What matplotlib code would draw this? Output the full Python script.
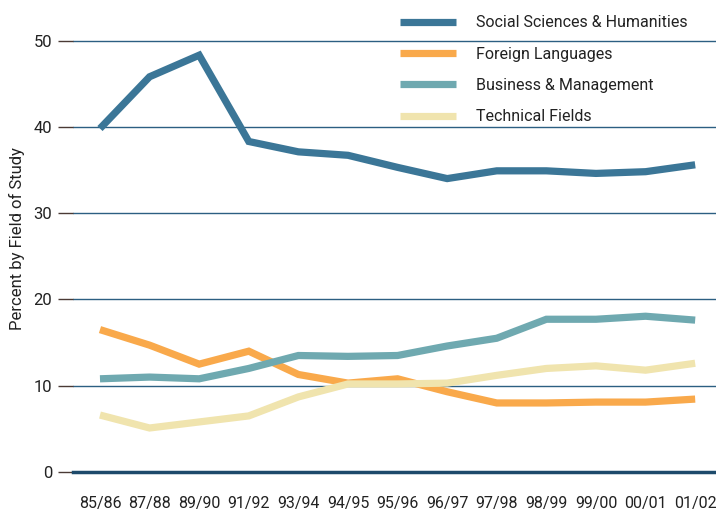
import matplotlib
matplotlib.use('Agg')
import matplotlib.pyplot as plt

years=['85/86','87/88','89/90','91/92','93/94','94/95','95/96','96/97','97/98','98/99','99/00','00/01','01/02']
social=[39.8,45.8,48.3,38.3,37.1,36.7,35.3,34.0,34.9,34.9,34.6,34.8,35.6]
foreign=[16.5,14.7,12.5,14.0,11.3,10.3,10.8,9.3,8.0,8.0,8.1,8.1,8.45]
business=[10.8,11.0,10.8,12.0,13.5,13.4,13.5,14.6,15.5,17.7,17.7,18.05,17.6]
technical=[6.6,5.1,5.8,6.5,8.7,10.2,10.2,10.3,11.2,12.0,12.3,11.8,12.6]

names=['Social Sciences & Humanities','Foreign Languages','Business & Management','Technical Fields']
colors=['#3b7697','#f9a94b','#6fa9b0','#f0e4ae']

plt.rcParams['font.family']=['Roboto','DejaVu Sans']

fig=plt.figure(figsize=(7.16,5.15),dpi=100)
ax=fig.add_axes([73/716,(515-472)/515,1-73/716,466/515])

x=list(range(len(years)))
for i,y in enumerate([social,foreign,business,technical]):
    ax.plot(x,y,color=colors[i],lw=5.2,solid_capstyle='butt',solid_joinstyle='miter',label=names[i],zorder=3+i)

for v in [10,20,30,40,50]:
    ax.axhline(v,color='#2c5f82',lw=1,zorder=1)
ax.axhline(0,color='#1d4a6b',lw=2.5,zorder=2,clip_on=False)

ax.set_xlim(-0.544,12.42)
ax.set_ylim(0,54)
ax.set_xticks(x)
ax.set_xticklabels(years,fontsize=11.5,color='#222222')
ax.set_yticks([0,10,20,30,40,50])
ax.set_yticklabels(['0','10','20','30','40','50'],fontsize=12,color='#222222')
ax.tick_params(axis='x',length=0,pad=17)
ax.tick_params(axis='y',length=11,width=1,color='#4a3a35',pad=4)
for s in ax.spines.values():
    s.set_visible(False)
ax.set_ylabel('Percent by Field of Study',fontsize=12,color='#222222',labelpad=6)

leg=ax.legend(loc='upper left',bbox_to_anchor=(0.508,0.98),frameon=False,fontsize=11.5,
              handlelength=3.5,handletextpad=1.25,labelspacing=1.02,borderpad=0,borderaxespad=0)
for t in leg.get_texts():
    t.set_color('#222222')
for h in leg.get_lines():
    h.set_linewidth(5.2)

fig.savefig('out.png',dpi=100)
